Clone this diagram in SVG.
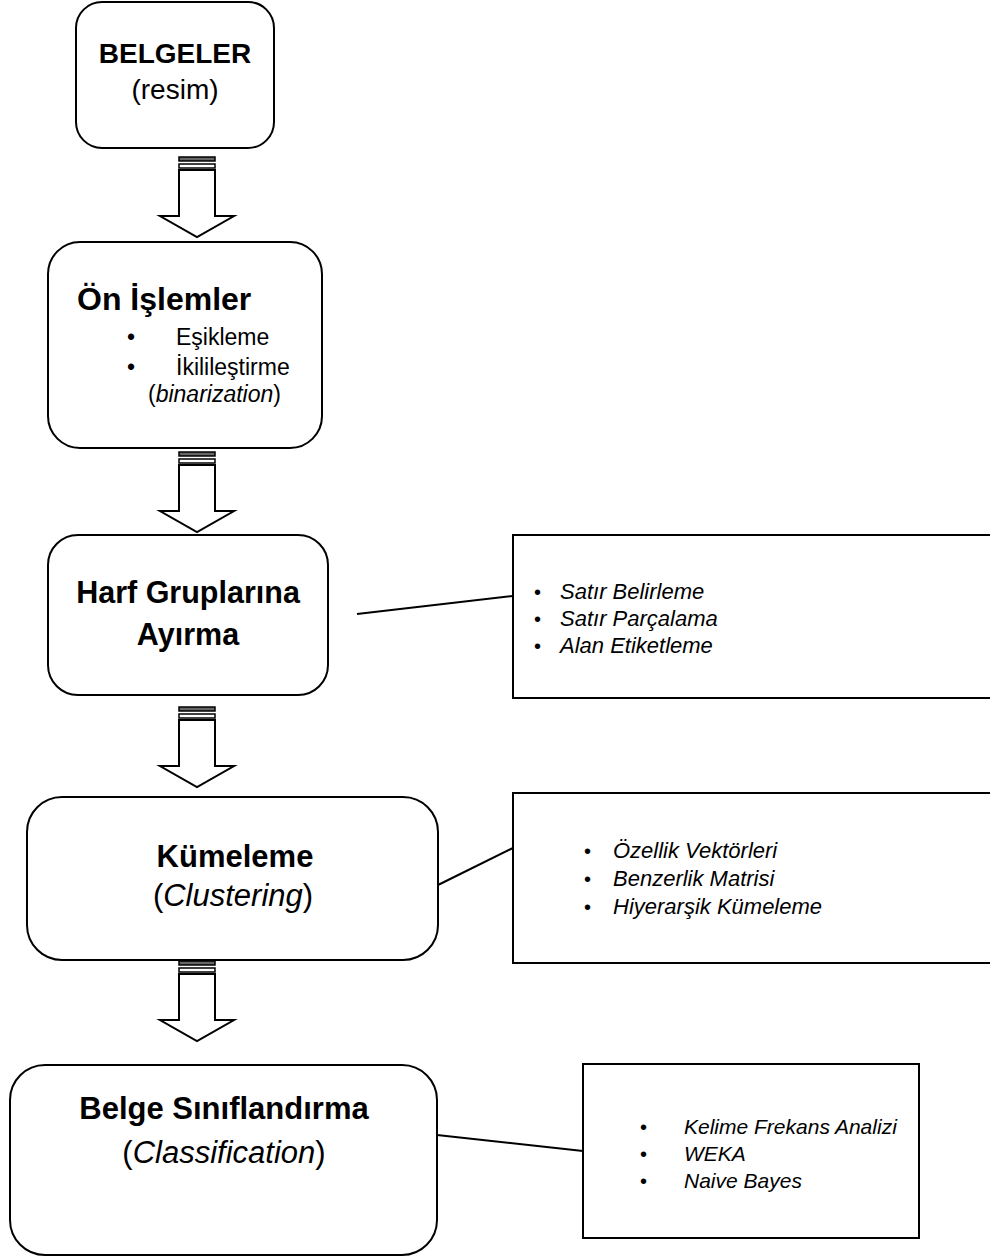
<svg xmlns="http://www.w3.org/2000/svg" width="990" height="1260" viewBox="0 0 990 1260">
<style>
.box{fill:#fff;stroke:#000;stroke-width:2}
.side{fill:#fff;stroke:#000;stroke-width:2}
.t{font-family:"Liberation Sans",Arial,sans-serif;fill:#000}
.b{font-weight:bold;font-size:31px}
.r{font-size:31px}
.s{font-size:23px}
.li{font-size:22px;font-style:italic}
.bu{font-size:20px}
.conn{stroke:#000;stroke-width:2;fill:none}
.arr{fill:#fff;stroke:#000;stroke-width:2;stroke-linejoin:miter}
.st1{fill:#666;stroke:#000;stroke-width:1.5}
.st2{fill:#fff;stroke:#000;stroke-width:1.5}
</style>
<defs>
<g id="arrow">
<rect class="st1" x="-18" y="0" width="36" height="4"/>
<rect class="st2" x="-18" y="7" width="36" height="4"/>
<path class="arr" d="M-18,13 L-18,59 L-37,59 L0,80 L37,59 L18,59 L18,13 Z"/>
</g>
</defs>
<rect width="990" height="1260" fill="#fff"/>
<g id="connectors">
<use href="#arrow" x="197" y="157"/>
<use href="#arrow" x="197" y="452"/>
<use href="#arrow" x="197" y="707"/>
<use href="#arrow" x="197" y="961"/>
<line class="conn" x1="357" y1="614" x2="513" y2="596"/>
<line class="conn" x1="438" y1="885" x2="513" y2="848"/>
<line class="conn" x1="437" y1="1135" x2="583" y2="1151"/>
</g>
<g id="node-belgeler">
<rect class="box" x="76" y="2" width="198" height="146" rx="26"/>
<text class="t b" x="175" y="63" text-anchor="middle" style="font-size:28px">BELGELER</text>
<text class="t r" x="175" y="99" text-anchor="middle" style="font-size:28px">(resim)</text>
</g>
<g id="node-onislemler">
<rect class="box" x="48" y="242" width="274" height="206" rx="32"/>
<text class="t b" x="77" y="310" style="font-size:32px">Ön İşlemler</text>
<text class="t s" x="127" y="345">•</text>
<text class="t s" x="176" y="345">Eşikleme</text>
<text class="t s" x="127" y="375">•</text>
<text class="t s" x="176" y="375">İkilileştirme</text>
<text class="t s" x="148" y="402">(<tspan font-style="italic">binarization</tspan>)</text>
</g>
<g id="node-harf">
<rect class="box" x="48" y="535" width="280" height="160" rx="30"/>
<text class="t b" x="188" y="603" text-anchor="middle" style="font-size:30.5px">Harf Gruplarına</text>
<text class="t b" x="188" y="645" text-anchor="middle" style="font-size:30.5px">Ayırma</text>
</g>
<g id="note-harf">
<rect class="side" x="513" y="535" width="500" height="163"/>
<text class="t bu" x="534" y="599">•</text>
<text class="t li" x="560" y="599">Satır  Belirleme</text>
<text class="t bu" x="534" y="626">•</text>
<text class="t li" x="560" y="626">Satır Parçalama</text>
<text class="t bu" x="534" y="653">•</text>
<text class="t li" x="560" y="653">Alan Etiketleme</text>
</g>
<g id="node-kumeleme">
<rect class="box" x="27" y="797" width="411" height="163" rx="35"/>
<text class="t b" x="235" y="867" text-anchor="middle">Kümeleme</text>
<text class="t r" x="233" y="906" text-anchor="middle">(<tspan font-style="italic">Clustering</tspan>)</text>
</g>
<g id="note-kumeleme">
<rect class="side" x="513" y="793" width="500" height="170"/>
<text class="t bu" x="584" y="858">•</text>
<text class="t li" x="613" y="858">Özellik Vektörleri</text>
<text class="t bu" x="584" y="886">•</text>
<text class="t li" x="613" y="886">Benzerlik  Matrisi</text>
<text class="t bu" x="584" y="914">•</text>
<text class="t li" x="613" y="914">Hiyerarşik Kümeleme</text>
</g>
<g id="node-siniflandirma">
<rect class="box" x="10" y="1065" width="427" height="190" rx="35"/>
<text class="t b" x="224" y="1119" text-anchor="middle">Belge Sınıflandırma</text>
<text class="t r" x="224" y="1163" text-anchor="middle">(<tspan font-style="italic">Classification</tspan>)</text>
</g>
<g id="note-siniflandirma">
<rect class="side" x="583" y="1064" width="336" height="174"/>
<text class="t bu" x="640" y="1134">•</text>
<text class="t li" x="684" y="1134" style="font-size:21px">Kelime Frekans Analizi</text>
<text class="t bu" x="640" y="1161">•</text>
<text class="t li" x="684" y="1161" style="font-size:21px">WEKA</text>
<text class="t bu" x="640" y="1188">•</text>
<text class="t li" x="684" y="1188" style="font-size:21px">Naive Bayes</text>
</g>
</svg>
